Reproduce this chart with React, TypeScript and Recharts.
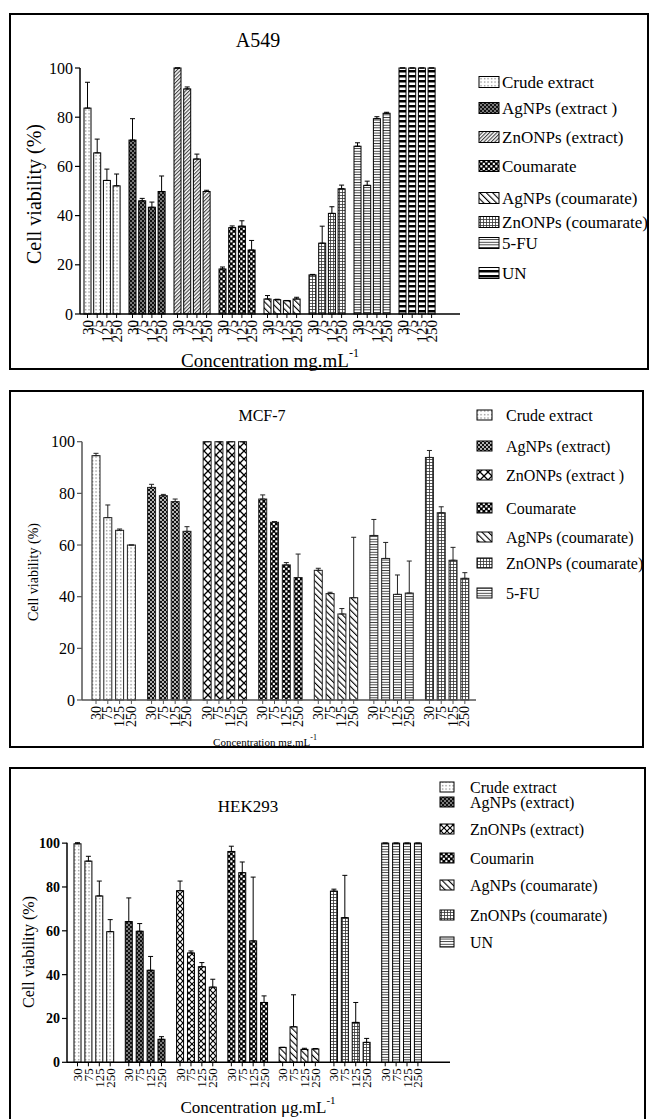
import { BarChart, Bar, XAxis, YAxis, ErrorBar } from "recharts"

const FONT = "'Liberation Serif', 'Times New Roman', Times, serif"

// concentrations shown under every bar
const concentrations = ["30", "75", "125", "250"]
const seriesKeys = ["c30", "c75", "c125", "c250"]
const errKeys = ["e30", "e75", "e125", "e250"]

// ---- A549 ----
const a549Groups = [
  "Crude extract",
  "AgNPs (extract )",
  "ZnONPs (extract)",
  "Coumarate",
  "AgNPs (coumarate)",
  "ZnONPs (coumarate)",
  "5-FU",
  "UN",
]
const a549Means = [
  [83.7, 65.5, 54.3, 52.1],
  [70.7, 46.0, 43.4, 49.8],
  [100, 91.5, 63.0, 49.8],
  [18.3, 35.1, 35.7, 26.0],
  [6.1, 5.8, 5.4, 6.1],
  [15.9, 28.8, 40.9, 50.9],
  [68.2, 52.3, 79.4, 81.6],
  [100, 100, 100, 100],
]
const a549Errors = [
  [10.5, 5.6, 4.6, 4.8],
  [8.7, 1.0, 2.1, 6.3],
  [0, 0.8, 2.0, 0.5],
  [0.8, 0.7, 2.2, 3.9],
  [1.4, 0.2, 0.1, 0.7],
  [0.2, 6.9, 2.7, 1.5],
  [1.4, 1.7, 0.8, 0.4],
  [0, 0, 0, 0],
]

// ---- MCF-7 ----
const mcfGroups = [
  "Crude extract",
  "AgNPs (extract)",
  "ZnONPs (extract )",
  "Coumarate",
  "AgNPs (coumarate)",
  "ZnONPs (coumarate)",
  "5-FU",
]
const mcfMeans = [
  [94.6, 70.6, 65.7, 60.0],
  [82.3, 79.1, 76.8, 65.3],
  [100, 100, 100, 100],
  [77.8, 68.8, 52.3, 47.4],
  [50.2, 41.2, 33.3, 39.6],
  [63.7, 54.8, 40.9, 41.4],
  [93.9, 72.5, 54.1, 47.1],
]
const mcfErrors = [
  [0.9, 4.9, 0.5, 0],
  [1.2, 0.5, 1.0, 1.8],
  [0, 0, 0, 0],
  [1.6, 0.3, 0.9, 9.1],
  [0.8, 0.5, 2.1, 23.4],
  [6.2, 6.2, 7.5, 12.4],
  [2.7, 2.3, 5.0, 2.2],
]

// ---- HEK293 ----
const hekGroups = [
  "Crude extract",
  "AgNPs (extract)",
  "ZnONPs (extract)",
  "Coumarin",
  "AgNPs (coumarate)",
  "ZnONPs (coumarate)",
  "UN",
]
const hekMeans = [
  [99.7, 91.8, 75.9, 59.6],
  [64.2, 59.8, 42.0, 10.5],
  [78.3, 49.9, 43.6, 34.3],
  [96.2, 86.5, 55.4, 27.3],
  [6.8, 16.2, 5.9, 6.1],
  [78.1, 66.0, 18.2, 9.1],
  [100, 100, 100, 100],
]
const hekErrors = [
  [0.5, 2.2, 6.8, 5.5],
  [10.8, 3.5, 6.3, 1.2],
  [4.4, 0.9, 1.9, 3.6],
  [2.4, 4.9, 29.1, 3.0],
  [0, 14.6, 0.5, 0.2],
  [0.9, 19.3, 9.1, 1.8],
  [0, 0, 0, 0],
]

const yTicks = [0, 20, 40, 60, 80, 100]

function buildRows(groups: string[], means: number[][], errors: number[][]) {
  return groups.map((name, i) => {
    const row: any = { name }
    seriesKeys.forEach((k, j) => {
      row[k] = means[i][j]
      row[errKeys[j]] = [0, errors[i][j]]
    })
    return row
  })
}

type Panel = {
  top: number
  height: number
  margin: { top: number; right: number; bottom: number; left: number }
  padL: number
  padR: number
  barSize: number
  barGap: number
  patterns: string[]
  axis: string
  stroke: string
  yFont: number
  yBold?: boolean
  xFont: number
  tick: number
}

const a549Panel: Panel = {
  top: 0,
  height: 369,
  margin: { top: 68, right: 192, bottom: 35, left: 20 },
  padL: 0,
  padR: 20,
  barSize: 7,
  barGap: 2.7,
  patterns: ["pDots", "pDense", "pDiag", "pChecker", "pBack", "pGrid", "pH", "pUN"],
  axis: "#000",
  stroke: "#000",
  yFont: 16,
  xFont: 15,
  tick: 4,
}

const mcfPanel: Panel = {
  top: 375,
  height: 375,
  margin: { top: 66.7, right: 176, bottom: 30, left: 22 },
  padL: 4,
  padR: 1,
  barSize: 8,
  barGap: 3.8,
  patterns: ["pDots", "pDense2", "pCross", "pChecker", "pBack", "pH", "pGrid"],
  axis: "#555",
  stroke: "#222",
  yFont: 16,
  xFont: 14,
  tick: 4,
}

const hekPanel: Panel = {
  top: 750,
  height: 369,
  margin: { top: 92.7, right: 202, bottom: 36.7, left: 7 },
  padL: 1,
  padR: 23,
  barSize: 7,
  barGap: 3.9,
  patterns: ["pDots", "pDense", "pCross2", "pChecker", "pBack", "pGrid", "pH"],
  axis: "#000",
  stroke: "#000",
  yFont: 14,
  yBold: true,
  xFont: 13,
  tick: 4,
}

function barShape(cfg: Panel, j: number) {
  return (p: any) => {
    const { x, y, width, height, index } = p
    const cx = x + width / 2
    const base = y + height
    const ty = base + cfg.tick + 2
    return (
      <g>
        <rect
          x={x}
          y={y}
          width={width}
          height={height}
          fill={`url(#${cfg.patterns[index]})`}
          stroke={cfg.stroke}
          strokeWidth={1}
        />
        <line x1={cx} x2={cx} y1={base} y2={base + cfg.tick} stroke={cfg.axis} strokeWidth={1} />
        <text
          x={cx}
          y={ty}
          transform={`rotate(-90 ${cx} ${ty})`}
          textAnchor="end"
          dominantBaseline="central"
          fontSize={cfg.xFont}
          style={{ fontFamily: FONT }}
          fill="#000"
        >
          {concentrations[j]}
        </text>
      </g>
    )
  }
}

function CellChart({ cfg, rows }: { cfg: Panel; rows: any[] }) {
  return (
    <div style={{ position: "absolute", left: 0, top: cfg.top }}>
      <BarChart
        width={652}
        height={cfg.height}
        data={rows}
        margin={cfg.margin}
        barSize={cfg.barSize}
        barGap={cfg.barGap}
      >
        <XAxis
          dataKey="name"
          tick={false}
          tickLine={false}
          axisLine={{ stroke: cfg.axis, strokeWidth: 1.5 }}
          height={20}
          padding={{ left: cfg.padL, right: cfg.padR }}
        />
        <YAxis
          domain={[0, 100]}
          ticks={yTicks}
          interval={0}
          width={60}
          tickSize={5}
          tickMargin={2}
          axisLine={{ stroke: cfg.axis, strokeWidth: 1.5 }}
          tickLine={{ stroke: cfg.axis, strokeWidth: 1.2 }}
          tick={{
            fontSize: cfg.yFont,
            fill: "#000",
            fontFamily: FONT,
            fontWeight: cfg.yBold ? "bold" : "normal",
          }}
        />
        {seriesKeys.map((k, j) => (
          <Bar key={k} dataKey={k} isAnimationActive={false} shape={barShape(cfg, j)}>
            <ErrorBar dataKey={errKeys[j]} width={2.5} stroke={cfg.stroke} strokeWidth={1} direction="y" />
          </Bar>
        ))}
      </BarChart>
    </div>
  )
}

function Legend({
  names,
  patterns,
  rows,
  iconX,
  iconW,
  iconH,
  textX,
  font,
}: {
  names: string[]
  patterns: string[]
  rows: number[]
  iconX: number
  iconW: number
  iconH: number
  textX: number
  font: number
}) {
  return (
    <g>
      {names.map((n, i) => (
        <g key={n + i}>
          <rect
            x={iconX}
            y={rows[i] - iconH / 2}
            width={iconW}
            height={iconH}
            fill={`url(#${patterns[i]})`}
            stroke="#000"
            strokeWidth={1}
          />
          <text
            x={textX}
            y={rows[i]}
            dominantBaseline="central"
            fontSize={font}
            style={{ fontFamily: FONT }}
            fill="#000"
          >
            {n}
          </text>
        </g>
      ))}
    </g>
  )
}

function Patterns() {
  return (
    <defs>
      <pattern id="pDots" width="3.5" height="3.5" patternUnits="userSpaceOnUse">
        <rect width="3.5" height="3.5" fill="#fff" />
        <rect x="1.2" y="1.2" width="0.9" height="0.9" fill="#000" />
      </pattern>
      <pattern id="pDense" width="4" height="4" patternUnits="userSpaceOnUse">
        <rect width="4" height="4" fill="#111" />
        <circle cx="1" cy="1" r="0.8" fill="#fff" />
        <circle cx="3" cy="3" r="0.8" fill="#fff" />
      </pattern>
      <pattern id="pDense2" width="4" height="4" patternUnits="userSpaceOnUse">
        <rect width="4" height="4" fill="#111" />
        <circle cx="1" cy="1" r="0.9" fill="#fff" />
        <circle cx="3" cy="3" r="0.9" fill="#fff" />
      </pattern>
      <pattern id="pDiag" width="2.6" height="2.6" patternUnits="userSpaceOnUse" patternTransform="rotate(45)">
        <rect width="2.6" height="2.6" fill="#fff" />
        <rect width="1.1" height="2.6" fill="#444" />
      </pattern>
      <pattern id="pChecker" width="5" height="5" patternUnits="userSpaceOnUse">
        <rect width="5" height="5" fill="#000" />
        <rect x="0.3" y="0.3" width="2.1" height="2.1" fill="#fff" />
        <rect x="2.8" y="2.8" width="2.1" height="2.1" fill="#fff" />
      </pattern>
      <pattern id="pBack" width="4.5" height="4.5" patternUnits="userSpaceOnUse" patternTransform="rotate(-45)">
        <rect width="4.5" height="4.5" fill="#fff" />
        <rect width="1.1" height="4.5" fill="#000" />
      </pattern>
      <pattern id="pGrid" width="3" height="3" patternUnits="userSpaceOnUse">
        <rect width="3" height="3" fill="#fff" />
        <rect width="3" height="0.8" fill="#333" />
        <rect width="0.8" height="3" fill="#333" />
      </pattern>
      <pattern id="pH" width="3" height="2.6" patternUnits="userSpaceOnUse">
        <rect width="3" height="2.6" fill="#fff" />
        <rect width="3" height="0.9" fill="#333" />
      </pattern>
      <pattern id="pUN" width="6" height="5" patternUnits="userSpaceOnUse">
        <rect width="6" height="5" fill="#fff" />
        <rect width="6" height="2.5" fill="#000" />
      </pattern>
      <pattern id="pCross" width="8" height="8" patternUnits="userSpaceOnUse">
        <rect width="8" height="8" fill="#fff" />
        <path d="M0 0 L8 8 M8 0 L0 8" stroke="#000" strokeWidth="1.3" />
      </pattern>
      <pattern id="pCross2" width="6" height="6" patternUnits="userSpaceOnUse">
        <rect width="6" height="6" fill="#fff" />
        <path d="M0 0 L6 6 M6 0 L0 6" stroke="#000" strokeWidth="1.2" />
      </pattern>
    </defs>
  )
}

function Label({
  x,
  y,
  size,
  rotate,
  children,
}: {
  x: number
  y: number
  size: number
  rotate?: boolean
  children: any
}) {
  return (
    <text
      x={x}
      y={y}
      textAnchor="middle"
      dominantBaseline="central"
      fontSize={size}
      style={{ fontFamily: FONT }}
      fill="#000"
      transform={rotate ? `rotate(-90 ${x} ${y})` : undefined}
    >
      {children}
    </text>
  )
}

export default function App() {
  const a549Rows = buildRows(a549Groups, a549Means, a549Errors)
  const mcfRows = buildRows(mcfGroups, mcfMeans, mcfErrors)
  const hekRows = buildRows(hekGroups, hekMeans, hekErrors)

  return (
    <div
      style={{
        position: "absolute",
        left: 0,
        top: 0,
        width: 652,
        height: 1119,
        overflow: "hidden",
        background: "#fff",
        fontFamily: FONT,
      }}
    >
      <svg width={652} height={1119} style={{ position: "absolute", left: 0, top: 0 }}>
        <Patterns />
        {/* panel frames */}
        <rect x={10} y={14} width={638} height={355} fill="none" stroke="#000" strokeWidth={2} />
        <rect x={10} y={391} width={633} height={356} fill="none" stroke="#000" strokeWidth={2} />
        <rect x={10} y={768} width={635} height={400} fill="none" stroke="#000" strokeWidth={2} />

        {/* A549 */}
        <Label x={258} y={40} size={20}>
          A549
        </Label>
        <Label x={34} y={194} size={20} rotate>
          Cell viability (%)
        </Label>
        <Label x={270} y={360} size={19}>
          Concentration mg.mL
          <tspan dy={-7} fontSize={12}>
            -1
          </tspan>
        </Label>
        <Legend
          names={a549Groups}
          patterns={a549Panel.patterns}
          rows={[82, 108, 137, 166, 198, 222, 243, 273]}
          iconX={479}
          iconW={20}
          iconH={11}
          textX={502}
          font={17}
        />

        {/* MCF-7 */}
        <Label x={262} y={415} size={16}>
          MCF-7
        </Label>
        <Label x={33} y={572} size={14} rotate>
          Cell viability (%)
        </Label>
        <Label x={265} y={742} size={11}>
          Concentration mg.mL
          <tspan dy={-5} fontSize={8}>
            -1
          </tspan>
        </Label>
        <Legend
          names={mcfGroups}
          patterns={["pDots", "pDense2", "pCross", "pChecker", "pBack", "pGrid", "pH"]}
          rows={[415, 446, 475, 508, 537, 563, 593]}
          iconX={477}
          iconW={15}
          iconH={10}
          textX={506}
          font={16}
        />

        {/* HEK293 */}
        <Label x={248} y={806} size={17}>
          HEK293
        </Label>
        <Label x={28} y={952} size={16} rotate>
          Cell viability (%)
        </Label>
        <Label x={258} y={1107} size={17}>
          Concentration μg.mL
          <tspan dy={-7} fontSize={11}>
            -1
          </tspan>
        </Label>
        <Legend
          names={hekGroups}
          patterns={hekPanel.patterns}
          rows={[787, 802, 829, 858, 885, 915, 942]}
          iconX={440}
          iconW={14}
          iconH={10}
          textX={470}
          font={16}
        />
      </svg>

      <CellChart cfg={a549Panel} rows={a549Rows} />
      <CellChart cfg={mcfPanel} rows={mcfRows} />
      <CellChart cfg={hekPanel} rows={hekRows} />
    </div>
  )
}
